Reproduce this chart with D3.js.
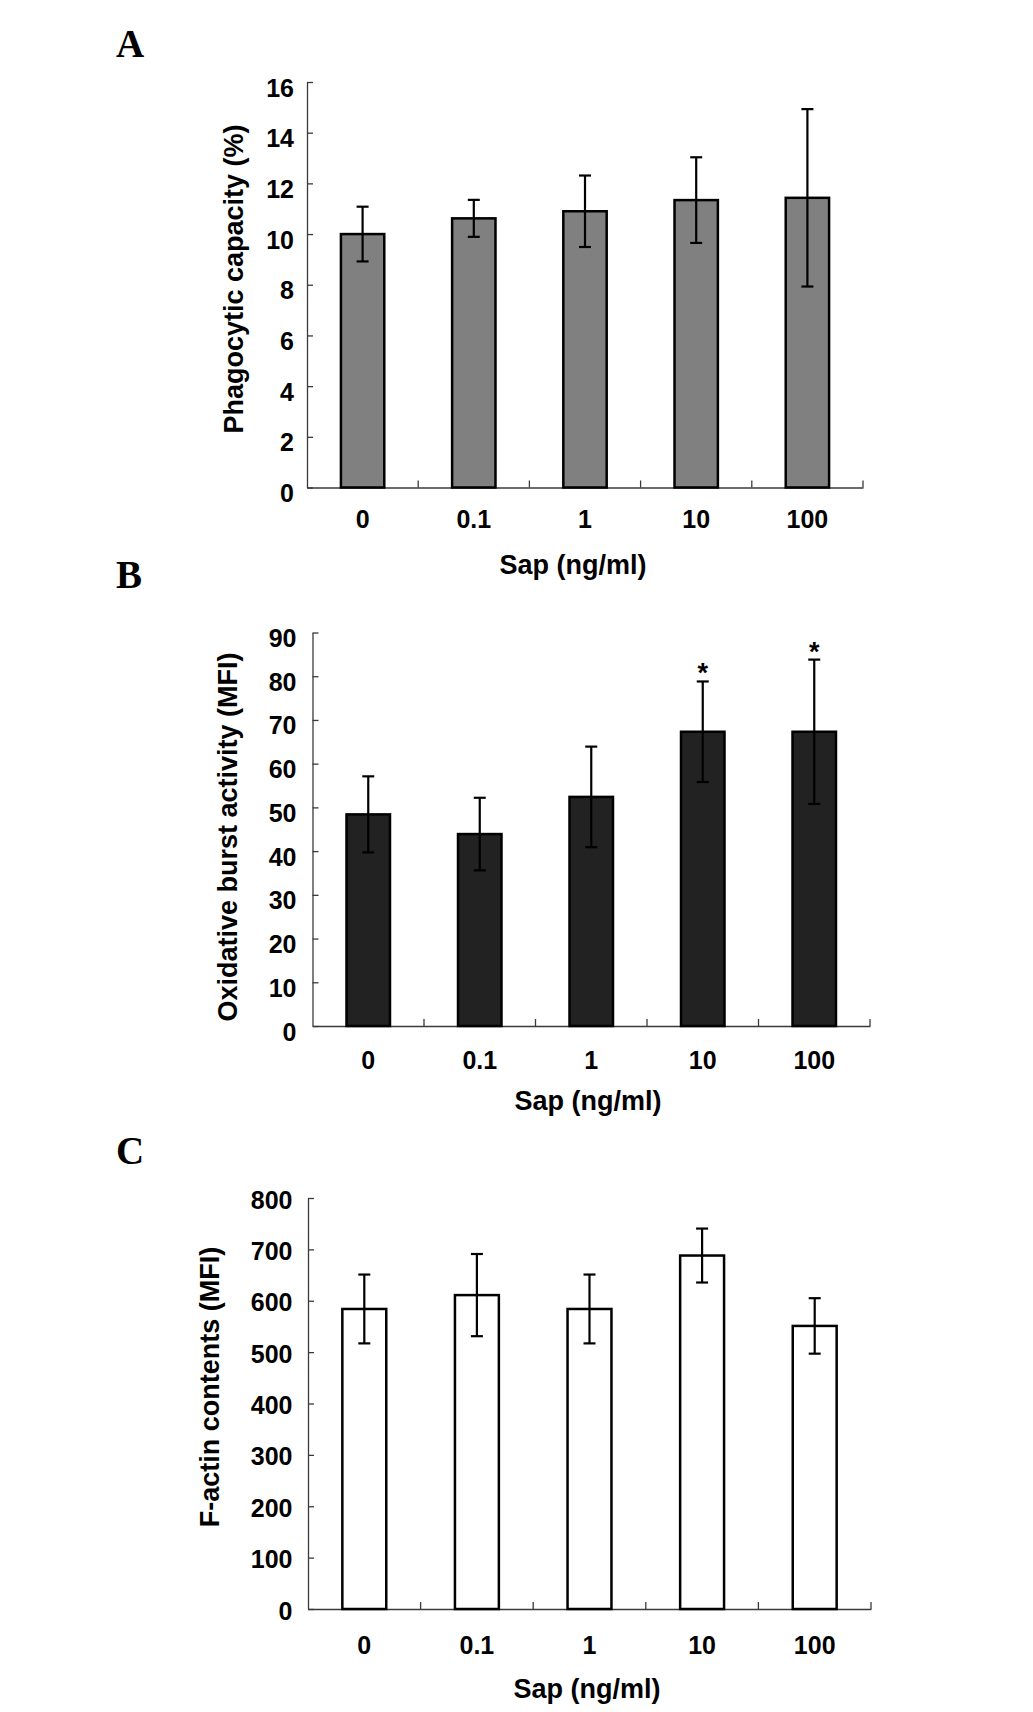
<!DOCTYPE html>
<html>
<head>
<meta charset="utf-8">
<script src="https://cdn.jsdelivr.net/npm/d3@7/dist/d3.min.js"></script>
<style>
  html, body { margin: 0; padding: 0; background: #fff; }
  svg { display: block; }
</style>
</head>
<body>
<svg id="chart" width="1033" height="1712"></svg>
<script>
// ---------- DATA ----------
const categories = ["0", "0.1", "1", "10", "100"];
const xTitle = "Sap (ng/ml)";

const phagoMeans  = [10.0, 10.62, 10.9, 11.34, 11.43];
const phagoErrors = [1.08, 0.73, 1.41, 1.69, 3.5];
const phagoTicks  = [0, 2, 4, 6, 8, 10, 12, 14, 16];

const burstMeans  = [48.4, 43.9, 52.4, 67.3, 67.3];
const burstErrors = [8.7, 8.3, 11.5, 11.5, 16.5];
const burstStars  = ["", "", "", "*", "*"];
const burstTicks  = [0, 10, 20, 30, 40, 50, 60, 70, 80, 90];

const actinMeans  = [584, 611, 584, 688, 551];
const actinErrors = [67, 80, 67, 52.5, 54];
const actinTicks  = [0, 100, 200, 300, 400, 500, 600, 700, 800];

// ---------- LAYOUT ----------
const panels = [
  { letter: "A", means: phagoMeans, errors: phagoErrors, stars: null, ticks: phagoTicks,
    yLabel: "Phagocytic capacity (%)", fill: "#808080",
    x0: 307, x1: 863, yTop: 82, yBase: 487.5,
    letterPos: [116, 57], yTitlePos: [243, 279], tickPad: 13, tickDy: 5,
    xTickY: 40, xTitlePos: [573, 574] },
  { letter: "B", means: burstMeans, errors: burstErrors, stars: burstStars, ticks: burstTicks,
    yLabel: "Oxidative burst activity (MFI)", fill: "#222222",
    x0: 312.5, x1: 870, yTop: 632.5, yBase: 1026,
    letterPos: [116, 588], yTitlePos: [237, 837], tickPad: 16, tickDy: 5,
    xTickY: 43, xTitlePos: [588, 1110] },
  { letter: "C", means: actinMeans, errors: actinErrors, stars: null, ticks: actinTicks,
    yLabel: "F-actin contents (MFI)", fill: "#ffffff",
    x0: 308, x1: 871, yTop: 1198, yBase: 1609,
    letterPos: [116, 1163.5], yTitlePos: [219, 1387], tickPad: 15.5, tickDy: 1,
    xTickY: 45, xTitlePos: [587, 1698] }
];

const SANS = "'Liberation Sans', Arial, Helvetica, sans-serif";
const SERIF = "'Liberation Serif', 'Times New Roman', serif";
const AXIS_COLOR = "#3a3a3a";

const svg = d3.select("#chart");
svg.append("rect").attr("width", 1033).attr("height", 1712).attr("fill", "#fff");

panels.forEach(p => {
  const g = svg.append("g");

  const x = d3.scaleBand()
    .domain(categories)
    .range([p.x0, p.x1])
    .paddingInner(0.61)
    .paddingOuter(0.305);

  const ticks = p.ticks;
  const y = d3.scaleLinear()
    .domain([ticks[0], ticks[ticks.length - 1]])
    .range([p.yBase, p.yTop]);

  // Panel letter
  g.append("text")
    .attr("x", p.letterPos[0]).attr("y", p.letterPos[1])
    .attr("font-family", SERIF).attr("font-weight", "bold")
    .attr("font-size", 39).attr("fill", "#000")
    .text(p.letter);

  // Y axis
  const yAxis = d3.axisLeft(y)
    .tickValues(ticks)
    .tickFormat(d3.format("d"))
    .tickSizeInner(-6)
    .tickSizeOuter(0)
    .tickPadding(p.tickPad);
  const yg = g.append("g").attr("transform", `translate(${p.x0},0)`).call(yAxis);
  yg.select(".domain").attr("stroke", AXIS_COLOR).attr("stroke-width", 1.3);
  yg.selectAll(".tick line").attr("stroke", AXIS_COLOR).attr("stroke-width", 1.3);
  yg.selectAll(".tick text")
    .attr("font-family", SANS).attr("font-weight", "bold")
    .attr("font-size", 25).attr("fill", "#000")
    .attr("dy", null)
    .attr("dominant-baseline", "central")
    .attr("y", p.tickDy);

  // X axis
  const xAxis = d3.axisBottom(x).tickSize(0).tickSizeOuter(0);
  const xg = g.append("g").attr("transform", `translate(0,${p.yBase})`).call(xAxis);
  xg.select(".domain").attr("stroke", AXIS_COLOR).attr("stroke-width", 1.3);
  xg.selectAll(".tick text")
    .attr("font-family", SANS).attr("font-weight", "bold")
    .attr("font-size", 25).attr("fill", "#000")
    .attr("dy", null)
    .attr("y", p.xTickY);

  // Category boundary ticks (between bands and at the end)
  const bounds = d3.range(1, categories.length + 1).map(i => x.range()[0] + i * x.step());
  g.append("g").selectAll("line").data(bounds).join("line")
    .attr("x1", d => d).attr("x2", d => d)
    .attr("y1", p.yBase).attr("y2", p.yBase - 7)
    .attr("stroke", AXIS_COLOR).attr("stroke-width", 1.3);

  // Bars
  const rows = categories.map((c, i) => ({ c, m: p.means[i], e: p.errors[i], s: p.stars ? p.stars[i] : "" }));
  g.append("g").selectAll("rect").data(rows).join("rect")
    .attr("x", d => x(d.c))
    .attr("width", x.bandwidth())
    .attr("y", d => y(d.m))
    .attr("height", d => y(0) - y(d.m))
    .attr("fill", p.fill)
    .attr("stroke", "#000")
    .attr("stroke-width", 2.5);

  // Error bars
  const capW = 12;
  const eg = g.append("g").attr("stroke", "#000").attr("stroke-width", 2.2);
  rows.forEach(d => {
    const cx = x(d.c) + x.bandwidth() / 2;
    eg.append("line").attr("x1", cx).attr("x2", cx).attr("y1", y(d.m - d.e)).attr("y2", y(d.m + d.e));
    eg.append("line").attr("x1", cx - capW / 2).attr("x2", cx + capW / 2).attr("y1", y(d.m + d.e)).attr("y2", y(d.m + d.e));
    eg.append("line").attr("x1", cx - capW / 2).attr("x2", cx + capW / 2).attr("y1", y(d.m - d.e)).attr("y2", y(d.m - d.e));
  });

  // Significance stars
  g.append("g").selectAll("text").data(rows.filter(d => d.s)).join("text")
    .attr("x", d => x(d.c) + x.bandwidth() / 2)
    .attr("y", d => y(d.m + d.e) + 1)
    .attr("text-anchor", "middle")
    .attr("font-family", SANS).attr("font-weight", "bold")
    .attr("font-size", 27).attr("fill", "#000")
    .text(d => d.s);

  // Y title
  g.append("text")
    .attr("transform", `translate(${p.yTitlePos[0]},${p.yTitlePos[1]}) rotate(-90)`)
    .attr("text-anchor", "middle")
    .attr("font-family", SANS).attr("font-weight", "bold")
    .attr("font-size", 27).attr("fill", "#000")
    .text(p.yLabel);

  // X title
  g.append("text")
    .attr("x", p.xTitlePos[0]).attr("y", p.xTitlePos[1])
    .attr("text-anchor", "middle")
    .attr("font-family", SANS).attr("font-weight", "bold")
    .attr("font-size", 27).attr("fill", "#000")
    .text(xTitle);
});
</script>
</body>
</html>
